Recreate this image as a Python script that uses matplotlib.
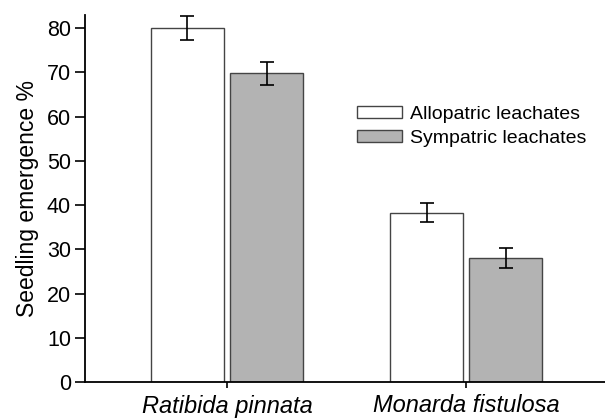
import numpy as np
import matplotlib.pyplot as plt

plt.rcParams['font.family'] = ['Liberation Sans', 'DejaVu Sans']

species = ["Ratibida pinnata", "Monarda fistulosa"]
allopatric = [80.0, 38.3]
allopatric_err = [2.7, 2.1]
sympatric = [69.8, 28.0]
sympatric_err = [2.6, 2.2]

fig = plt.figure(figsize=(6.05, 4.18), dpi=100)
ax = fig.add_axes([85/605, 1 - 382/418, 1 - 85/605, (382 - 15)/418])

x = np.arange(len(species))
w = 0.305
gap = 0.013
ekw = dict(elinewidth=1.2, capthick=1.2, capsize=5, ecolor='black')
ax.bar(x - w/2 - gap, allopatric, w, yerr=allopatric_err, color='white',
       edgecolor='#444444', linewidth=1.0, error_kw=ekw, label='Allopatric leachates')
ax.bar(x + w/2 + gap, sympatric, w, yerr=sympatric_err, color='#b3b3b3',
       edgecolor='#444444', linewidth=1.0, error_kw=ekw, label='Sympatric leachates')

ax.set_xlim(-0.594, 1.58)
ax.set_ylim(0, 83)
ax.set_yticks(range(0, 81, 10))
ax.set_xticks(x)
ax.set_xticklabels(species, fontstyle='italic', fontsize=17)
ax.tick_params(axis='y', labelsize=15.5, length=7, width=1.2, direction='out', pad=3)
ax.tick_params(axis='x', length=4, width=1.2, direction='out', pad=5)
ax.set_ylabel("Seedling emergence %", fontsize=16.5, labelpad=6)

for s in ['top', 'right']:
    ax.spines[s].set_visible(False)
for s in ['left', 'bottom']:
    ax.spines[s].set_linewidth(1.3)

ax.legend(loc='upper left', bbox_to_anchor=(0.49, 0.80), frameon=False, fontsize=14,
          handlelength=2.3, handleheight=0.6, handletextpad=0.4, labelspacing=0.35)

fig.savefig("out.png", dpi=100)
